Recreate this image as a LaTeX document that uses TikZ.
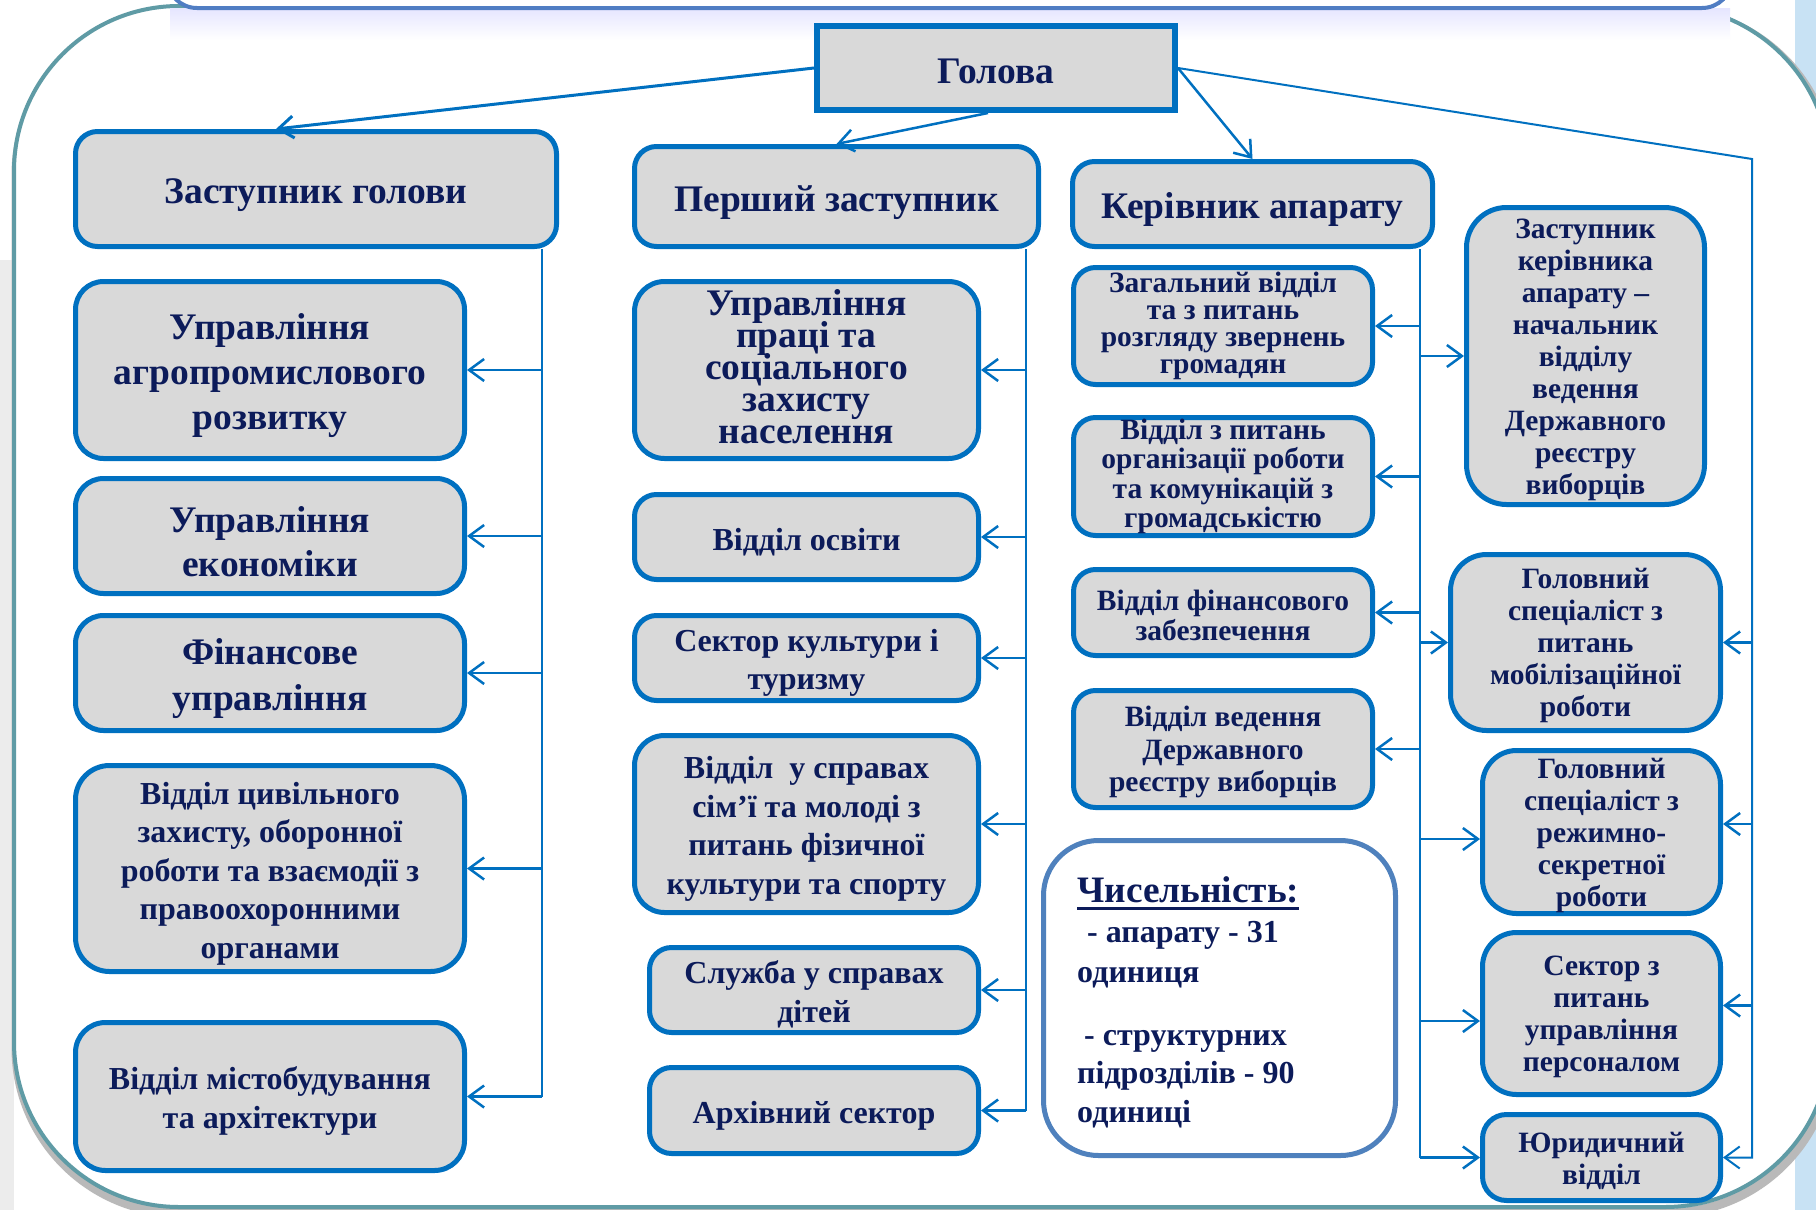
\documentclass[tikz,border=0pt]{standalone}
\usepackage{fontspec}
\setmainfont{Liberation Serif}
\usetikzlibrary{arrows.meta}
\definecolor{bblue}{RGB}{0,112,192}
\definecolor{bfill}{RGB}{217,217,217}
\definecolor{navy}{RGB}{12,27,90}
\definecolor{framec}{RGB}{95,155,165}
\definecolor{cntc}{RGB}{79,129,189}
\definecolor{barc}{RGB}{80,125,195}
\definecolor{lblue}{RGB}{200,226,244}
\newcommand\tls{\lineskiplimit -100pt\relax}
\newcommand\fsz[2]{\fontsize{#1}{#2}\selectfont\bfseries\tls}
\newcommand\strA{\rule{0pt}{1em}}
\newcommand\strB{\rule{0pt}{0.9em}}
\newcommand\strC{\rule{0pt}{0.85em}}
\newcommand\dpA{\rule[-7pt]{0pt}{7pt}}
\begin{document}
\begin{tikzpicture}[x=1pt,y=-1pt,
  box/.style={draw=bblue, line width=5pt, fill=bfill, rounded corners=22pt, align=center, text=navy, inner sep=0pt},
  big/.style={font=\fsz{37.5}{44}},
  med/.style={font=\fsz{32}{38.5}},
  sml/.style={font=\fsz{29.5}{29.3}},
  rgt/.style={font=\fsz{29.5}{32}},
  conn/.style={draw=bblue, line width=2pt},
  arr/.style={draw=bblue, line width=2.5pt, -{Straight Barb[length=15pt,width=22pt]}},
  cnttext/.style={anchor=base west, inner sep=0pt, text=navy, font=\fsz{32}{38}}]
\useasboundingbox (0,0) rectangle (1816,1210);
% background
\fill[white] (0,0) rectangle (1816,1210);
\fill[gray!15] (0,260) rectangle (14,1210);
\fill[lblue] (1795,0) rectangle (1816,1210);
\draw[gray!55, line width=9pt, rounded corners=165pt] (16,10) rectangle (1832,1213);
\draw[framec, line width=4pt, fill=white, rounded corners=165pt] (14,6) rectangle (1830,1207);
\shade[top color=blue!10, bottom color=white] (170,8) rectangle (1730,40);
\draw[barc, line width=4pt, fill=white, rounded corners=30pt] (167,-60) rectangle (1732,8);

% top level
\node[box, sharp corners, line width=6pt, minimum width=358pt, minimum height=84pt, big] (hol) at (996,68) {\strC Голова};
\node[box, big, minimum width=481pt, minimum height=115pt] (zg) at (316,189) {\strA Заступник голови};
\node[box, big, minimum width=404pt, minimum height=100pt] (pz) at (836.5,196.5) {\strA Перший заступник};
\node[box, big, minimum width=360pt, minimum height=85pt] (ka) at (1252.5,204) {\strA Керівник апарату};
\node[box, rgt, rounded corners=40pt, minimum width=238pt, minimum height=297pt] (zka) at (1585.5,356) {\strB Заступник\\керівника\\апарату –\\начальник\\відділу\\ведення\\Державного\\реєстру\\виборців};

% left column
\node[box, font=\fsz{37.5}{45}, rounded corners=28pt, minimum width=389pt, minimum height=177pt] (l1) at (270,370) {\strA Управління\\агропромислового\\розвитку};
\node[box, big, rounded corners=28pt, minimum width=389pt, minimum height=115pt] (l2) at (270,536) {\strA Управління\\економіки};
\node[box, font=\fsz{37.5}{46}, rounded corners=28pt, minimum width=389pt, minimum height=115pt] (l3) at (270,673) {\strA Фінансове\\управління};
\node[box, med, rounded corners=34pt, minimum width=389pt, minimum height=206pt] (l4) at (270,868.5) {\strA Відділ цивільного\\захисту, оборонної\\роботи та взаємодії з\\правоохоронними\\органами};
\node[box, font=\fsz{32}{39}, rounded corners=30pt, minimum width=389pt, minimum height=148pt] (l5) at (270,1096.5) {\strA Відділ містобудування\\та архітектури};

% middle column
\node[box, font=\fsz{37.5}{32}, rounded corners=30pt, minimum width=344pt, minimum height=177pt] (m1) at (806.5,370) {Управління\\праці та\\соціального\\захисту\\населення\dpA};
\node[box, med, minimum width=344pt, minimum height=85pt] (m2) at (806.5,537) {\strA Відділ освіти};
\node[box, med, minimum width=344pt, minimum height=85pt] (m3) at (806.5,658) {\strA Сектор культури і\\туризму};
\node[box, med, rounded corners=30pt, minimum width=344pt, minimum height=177pt] (m4) at (806.5,824) {\strA Відділ~ у справах\\сім’ї та молоді з\\питань фізичної\\культури та спорту};
\node[box, med, minimum width=329pt, minimum height=85pt] (m5) at (814,990) {\strA Служба у справах\\дітей};
\node[box, med, minimum width=329pt, minimum height=86pt] (m6) at (814,1110.5) {\strA Архівний сектор};

% right-middle column
\node[box, font=\fsz{29.5}{26.8}, minimum width=299pt, minimum height=117pt] (r1) at (1223,326) {Загальний відділ\\та з питань\\розгляду звернень\\громадян};
\node[box, sml, minimum width=299pt, minimum height=118pt] (r2) at (1223,476.5) {Відділ з питань\\організації роботи\\та комунікацій з\\громадськістю};
\node[box, font=\fsz{29.5}{30}, minimum width=299pt, minimum height=86pt] (r3) at (1223,612.5) {\strB Відділ фінансового\\забезпечення};
\node[box, font=\fsz{29.5}{32.4}, minimum width=299pt, minimum height=117pt] (r4) at (1223,749) {\strB Відділ ведення\\Державного\\реєстру виборців};
\node[box, draw=cntc, fill=white, rounded corners=55pt, minimum width=352pt, minimum height=315pt] (cnt) at (1219.5,998) {};

% right column
\node[box, rgt, rounded corners=36pt, minimum width=270pt, minimum height=176pt] (s1) at (1585.5,642.5) {\strB Головний\\спеціаліст з\\питань\\мобілізаційної\\роботи};
\node[box, rgt, rounded corners=34pt, minimum width=238pt, minimum height=163pt] (s2) at (1601.5,832) {\strB Головний\\спеціаліст з\\режимно-\\секретної\\роботи};
\node[box, rgt, rounded corners=34pt, minimum width=238pt, minimum height=162pt] (s3) at (1601.5,1013.5) {\strB Сектор з\\питань\\управління\\персоналом};
\node[box, rgt, rounded corners=24pt, minimum width=238pt, minimum height=86pt] (s4) at (1601.5,1157.5) {\strB Юридичний\\відділ};

% counts text
\node[cnttext, font=\fsz{37.3}{40}] (c1) at (1077,902) {Чисельність:};
\draw[navy, line width=3.5pt] ([yshift=-6pt]c1.south west) -- ([yshift=-6pt]c1.south east);
\node[cnttext] (c2) at (1087,942) {- апарату - 31};
\node[cnttext] (c3) at (1077,982) {одиниця};
\node[cnttext] (c4) at (1084,1045) {- структурних};
\node[cnttext] (c5) at (1077,1083) {підрозділів - 90};
\node[cnttext] (c6) at (1077,1122) {одиниці};

% connectors from head
\draw[arr, line width=3pt] (hol.west) -- ([xshift=-40pt]zg.north);
\draw[arr, line width=2.5pt] ([xshift=-8pt]hol.south) -- ([xshift=0pt]pz.north);
\draw[arr] (hol.east) -- (ka.north);
\coordinate (R) at (1752,159);
\draw[arr, line width=2pt] (hol.east) -- (R) |- (s4.east);
\draw[arr] (R |- s1.east) -- (s1.east);
\draw[arr] ([yshift=8pt]R |- s2.east) -- ([yshift=8pt]s2.east);
\draw[arr] ([yshift=8pt]R |- s3.east) -- ([yshift=8pt]s3.east);

% left column connectors
\coordinate (L) at (542,249);
\draw[conn] (L |- zg.south) -- (L |- l5.east);
\foreach \n in {l1,l2,l3,l4,l5} \draw[arr] (L |- \n.east) -- (\n.east);

% middle column connectors
\coordinate (M) at (1026,249);
\draw[conn] (M |- pz.south) -- (M |- m6.east);
\foreach \n in {m1,m2,m3,m4,m5,m6} \draw[arr] (M |- \n.east) -- (\n.east);

% kerivnyk connectors
\coordinate (K) at (1420,249);
\draw[conn] (K |- ka.south) -- (K |- s4.west);
\foreach \n in {r1,r2,r3,r4} \draw[arr] (K |- \n.east) -- (\n.east);
\draw[arr] (K |- zka.west) -- (zka.west);
\draw[arr] (K |- s1.west) -- (s1.west);
\draw[arr] ([yshift=-7pt]K |- s2.west) -- ([yshift=-7pt]s2.west);
\draw[arr] ([yshift=-7.5pt]K |- s3.west) -- ([yshift=-7.5pt]s3.west);
\draw[arr] (K |- s4.west) -- (s4.west);
\end{tikzpicture}
\end{document}
